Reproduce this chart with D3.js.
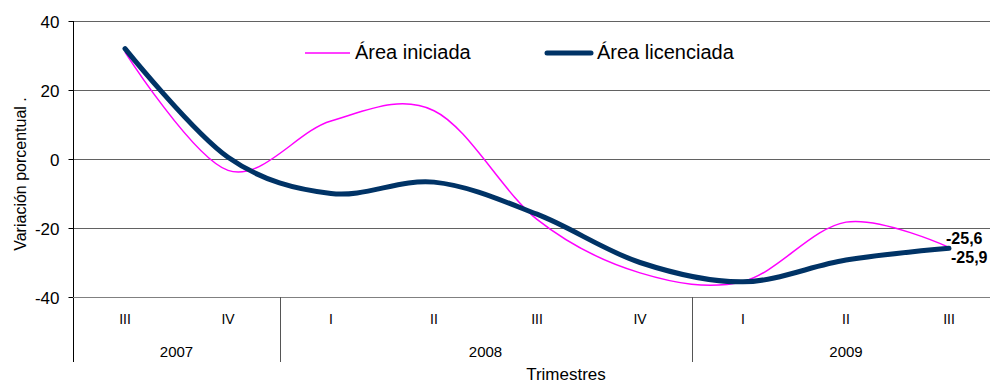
<!DOCTYPE html>
<html><head><meta charset="utf-8">
<script src="https://cdn.jsdelivr.net/npm/d3@7"></script>
<style>body{margin:0;background:#fff;overflow:hidden}svg{display:block;font-family:"Liberation Sans",Arial,sans-serif}text{fill:#000}</style>
</head><body>
<svg id="c" width="990" height="383"></svg>
<script>
const quarters = ["III","IV","I","II","III","IV","I","II","III"];
const years = [{label:"2007", from:0, to:2},{label:"2008", from:2, to:6},{label:"2009", from:6, to:9}];
const areaIniciada = [31, -3.3, 11, 14, -17.5, -33, -35.5, -18.3, -25.6];
const areaLicenciada = [32, 0.5, -10, -6.7, -16, -30, -35.6, -29.3, -25.9];
const yTicks = [40, 20, 0, -20, -40];
const seriesNames = ["Área iniciada", "Área licenciada"];
const lastLabels = ["-25,6", "-25,9"];

const svg = d3.select("#c");
const idx = d3.range(quarters.length);
const x = d3.scaleBand().domain(idx).range([73.5, 1000.5]).padding(0);
const xc = i => x(i) + x.bandwidth()/2;
const y = d3.scaleLinear().domain([-40, 40]).range([297, 21]);

// gridlines
svg.append("g").selectAll("line").data(yTicks.filter(d=>d>-40)).join("line")
  .attr("x1", 73).attr("x2", 1001).attr("y1", d=>Math.round(y(d))+0.5).attr("y2", d=>Math.round(y(d))+0.5)
  .attr("stroke", "#626262").attr("stroke-width", 1);

// y axis
const yAxis = svg.append("g").attr("transform","translate(73.5,0)")
  .call(d3.axisLeft(y).tickValues(yTicks).tickSize(5).tickFormat(d=>d));
yAxis.select(".domain").remove();
yAxis.selectAll(".tick line").attr("stroke","#000");
yAxis.selectAll(".tick text").attr("font-size","17px").attr("fill","#000").attr("x",-14).attr("dy","0.36em")
  .attr("font-family","'Liberation Sans',Arial,sans-serif");
svg.append("line").attr("x1",73.5).attr("x2",73.5).attr("y1",21).attr("y2",362).attr("stroke","#000");

// x axis line
svg.append("line").attr("x1",73).attr("x2",1001).attr("y1",297.5).attr("y2",297.5).attr("stroke","#808080");

// quarter labels
svg.append("g").selectAll("text").data(idx).join("text")
  .attr("x", i=>xc(i)).attr("y", 324).attr("text-anchor","middle").attr("font-size","14px").attr("fill","#000")
  .text(i=>quarters[i]);

// year separators and labels
svg.append("g").selectAll("line").data(years.slice(0,-1)).join("line")
  .attr("x1", d=>Math.round(x(d.to))+0.5).attr("x2", d=>Math.round(x(d.to))+0.5)
  .attr("y1", 297).attr("y2", 362).attr("stroke","#555");
svg.append("g").selectAll("text").data(years).join("text")
  .attr("x", d=>(x(d.from) + x(d.to-1)+x.bandwidth())/2).attr("y", 357).attr("fill","#000")
  .attr("text-anchor","middle").attr("font-size","15px").text(d=>d.label);

// axis titles
svg.append("text").attr("x",566).attr("y",380).attr("text-anchor","middle").attr("font-size","17px").text("Trimestres");
svg.append("text").attr("transform","translate(26,174) rotate(-90)").attr("text-anchor","middle")
  .attr("font-size","16px").text("Variación porcentual .");

// lines
const line = d3.line().x((d,i)=>xc(i)).y(d=>y(d)).curve(d3.curveCatmullRom.alpha(0));
svg.append("path").datum(areaIniciada).attr("d", line).attr("fill","none")
  .attr("stroke","#ff00ff").attr("stroke-width",1.5);
svg.append("path").datum(areaLicenciada).attr("d", line).attr("fill","none")
  .attr("stroke","#003366").attr("stroke-width",5).attr("stroke-linecap","round").attr("stroke-linejoin","round");

// end labels
const last = quarters.length-1;
svg.append("text").attr("x", xc(last)-3).attr("y", 244).attr("font-weight","bold").attr("font-size","16px").text(lastLabels[0]);
svg.append("text").attr("x", xc(last)+2).attr("y", 263).attr("font-weight","bold").attr("font-size","16px").text(lastLabels[1]);

// legend
const leg = svg.append("g");
leg.append("line").attr("x1",305).attr("x2",350).attr("y1",53).attr("y2",53).attr("stroke","#ff00ff").attr("stroke-width",1.5);
leg.append("text").attr("x",355).attr("y",59).attr("font-size","20px").text(seriesNames[0]);
leg.append("line").attr("x1",547).attr("x2",591).attr("y1",53).attr("y2",53).attr("stroke","#003366").attr("stroke-width",5).attr("stroke-linecap","round");
leg.append("text").attr("x",597).attr("y",59).attr("font-size","20px").text(seriesNames[1]);
</script>
</body></html>
